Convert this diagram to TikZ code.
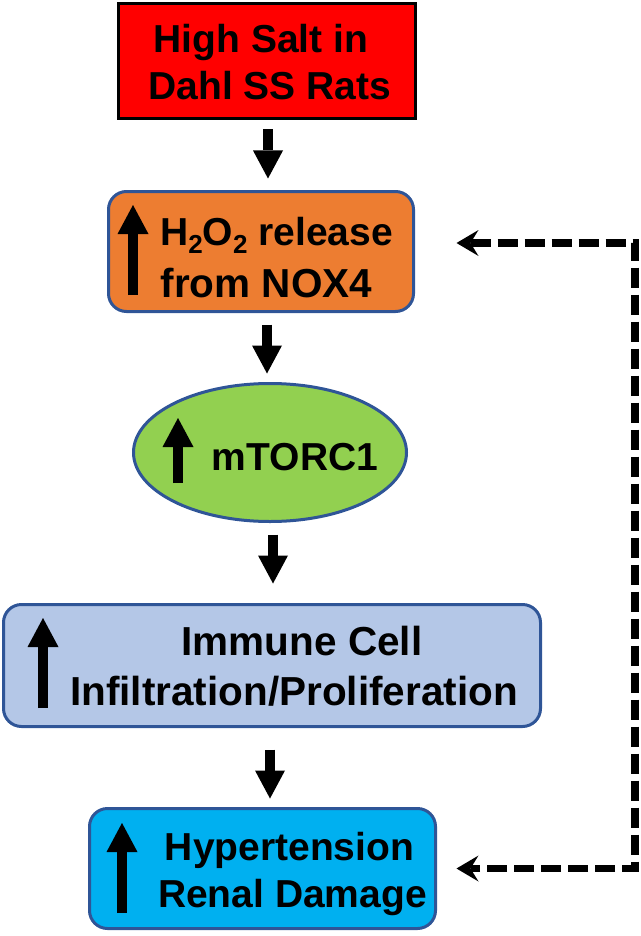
\documentclass[tikz,border=0pt]{standalone}
\usepackage{fontspec}
\setmainfont{Liberation Sans}
\usetikzlibrary{arrows.meta,shapes.geometric}

\definecolor{saltred}{HTML}{FF0000}
\definecolor{noxorange}{HTML}{ED7D31}
\definecolor{mtorgreen}{HTML}{92D050}
\definecolor{immuneblue}{HTML}{B4C7E7}
\definecolor{hypblue}{HTML}{00B0F0}
\definecolor{edgeblue}{HTML}{2F5597}

\newcommand{\lowtwo}{\raisebox{-8pt}{\fontsize{26}{26}\selectfont 2}}

\begin{document}
\begin{tikzpicture}[x=1pt,y=-1pt,
    txt/.style={inner sep=0pt, anchor=base, font=\fontsize{39}{47}\selectfont\bfseries},
    bigtxt/.style={txt, font=\fontsize{40.5}{47}\selectfont\bfseries},
    roundbox/.style={draw=edgeblue, line width=3pt, rounded corners=18pt, inner sep=0pt},
    downarrow/.style={line width=10pt, -{Triangle[length=28pt,width=30pt,line width=0pt]}},
    uparrow/.style={line width=10pt, -{Triangle[length=29pt,width=31pt,line width=0pt]}},
    feedback/.style={line width=7.5pt, dash pattern=on 20pt off 7pt,
        {Stealth[length=22pt,width=26pt,inset=8pt,line width=0pt]}-{Stealth[length=22pt,width=26pt,inset=8pt,line width=0pt]}}]
    \useasboundingbox (0,0) rectangle (640,936);

    % The boxes
    \node[draw=black, line width=3pt, fill=saltred, inner sep=0pt,
        minimum width=297pt, minimum height=115pt] (salt) at (267,61) {};
    \node[roundbox, fill=noxorange, minimum width=305pt, minimum height=120pt] (nox) at (261,251.5) {};
    \node[ellipse, draw=edgeblue, line width=3pt, fill=mtorgreen, inner sep=0pt,
        minimum width=273pt, minimum height=138pt] (mtor) at (270,452.5) {};
    \node[roundbox, fill=immuneblue, minimum width=537pt, minimum height=122pt] (immune) at (272,665.5) {};
    \node[roundbox, fill=hypblue, minimum width=346pt, minimum height=120pt] (hyp) at (262.5,868.5) {};

    % Texts
    \node[txt] (salt1) at (261,53) {High Salt in};
    \node[txt] (salt2) at (270,100) {Dahl SS Rats};
    \node[txt] (nox1) at (276.5,245) {H\lowtwo O\lowtwo\ release};
    \node[bigtxt] (nox2) at (266.5,297) {from NOX4};
    \node[txt] (mtor1) at (295,470) {mTORC1};
    \node[bigtxt] (immune1) at (302,655) {Immune Cell};
    \node[bigtxt] (immune2) at (294,705) {Infiltration/Proliferation};
    \node[txt] (hyp1) at (289.5,860) {Hypertension};
    \node[txt] (hyp2) at (292.5,907) {Renal Damage};

    % Rises
    \draw[uparrow] (133,295) -- (133,205);
    \draw[uparrow] (178,483) -- (178,418);
    \draw[uparrow] (43,708) -- (43,618);
    \draw[uparrow] (122,913) -- (122,823);

    % Cascade
    \draw[downarrow, shorten <=9.5pt, shorten >=11.5pt] ([xshift=1pt]salt.south) -- ([xshift=7pt]nox.north);
    \draw[downarrow, shorten <=11.5pt, shorten >=8.5pt] ([xshift=6pt]nox.south) -- ([xshift=-3pt]mtor.north);
    \draw[downarrow, shorten <=11.5pt, shorten >=19.5pt] ([xshift=3pt]mtor.south) -- ([xshift=1pt]immune.north);
    \draw[downarrow, shorten <=21.5pt, shorten >=8.5pt] ([xshift=-2pt]immune.south) -- ([xshift=7.5pt]hyp.north);

    % Feedback loop
    \coordinate (rail) at (635,556);
    \draw[feedback] ([xshift=41.5pt,yshift=8.5pt]nox.east) -| (rail) |- ([xshift=19.5pt]hyp.east);
\end{tikzpicture}
\end{document}
